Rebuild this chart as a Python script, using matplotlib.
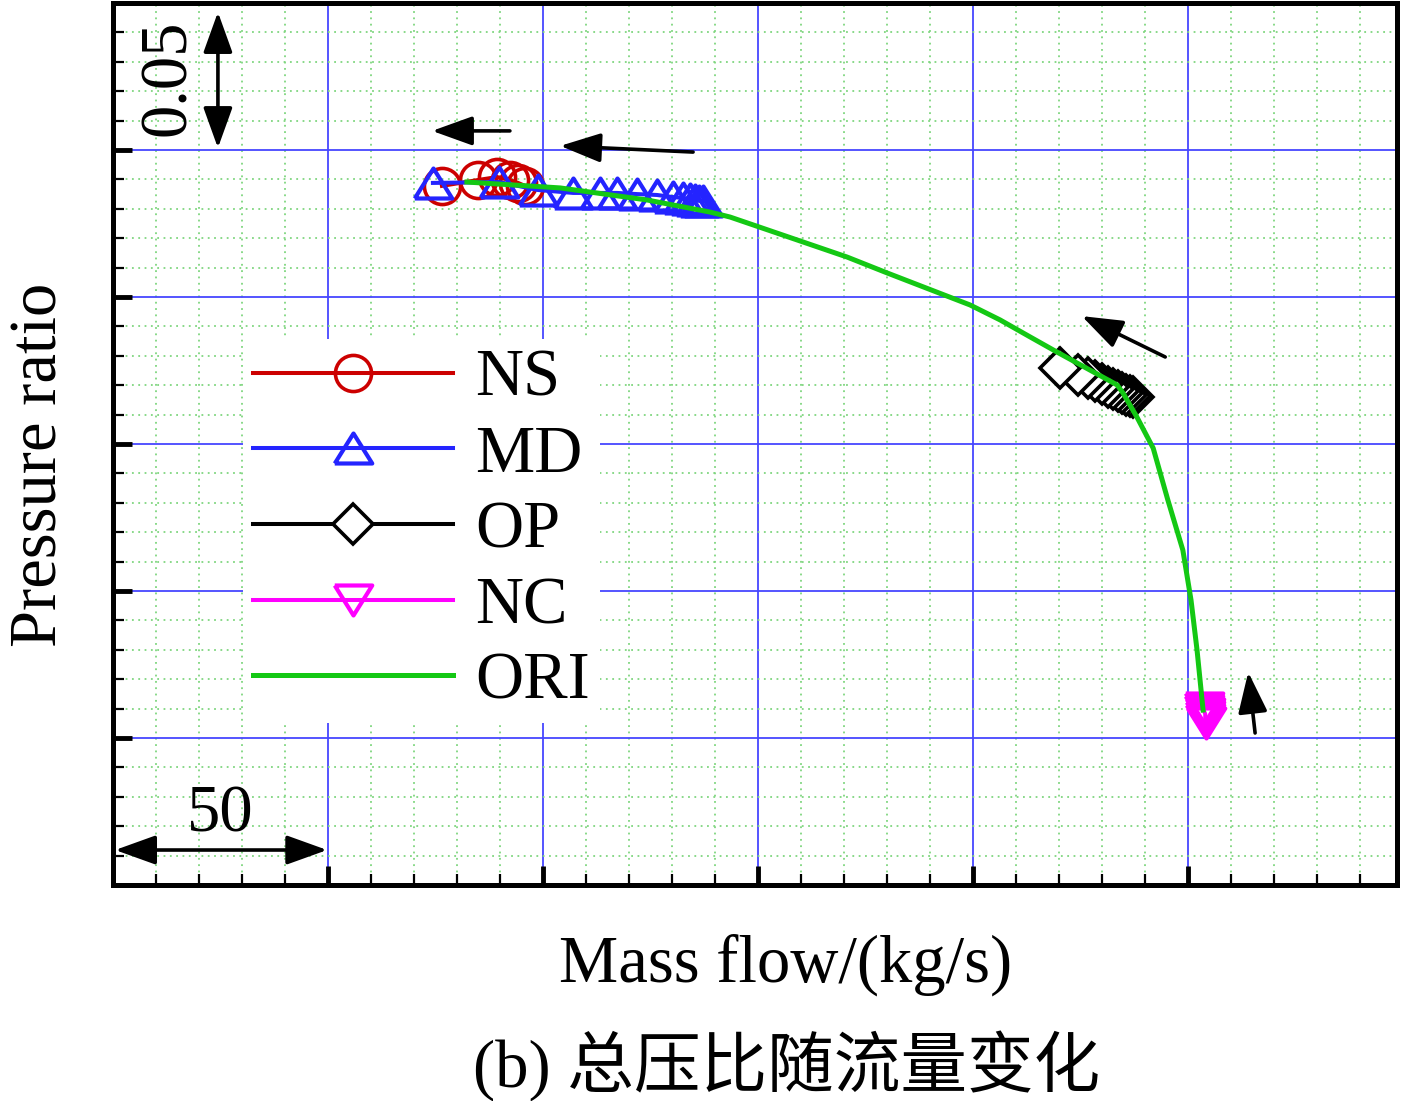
import numpy as np
import matplotlib
matplotlib.use("Agg")
import matplotlib.pyplot as plt
from matplotlib.ticker import MultipleLocator, NullFormatter

# ---- data (axis units: x in kg/s offset, y in pressure ratio offset) ----
ori_x = [82.3, 104.0, 124.2, 138.8, 143.5, 170.7, 180.0, 199.3, 206.3, 213.3,
         219.5, 233.5, 234.9, 238.1, 241.9, 245.3, 248.8, 250.7, 252.1, 253.5]
ori_y = [0.2391, 0.2371, 0.2330, 0.2289, 0.2272, 0.2136, 0.2082, 0.1973, 0.1922, 0.1864,
         0.1813, 0.1701, 0.1673, 0.1592, 0.1486, 0.1310, 0.1139, 0.0969, 0.0799, 0.0595]

ns_x = [76.5, 84.9, 89.3, 92.3, 94.2, 95.8]
ns_y = [0.2378, 0.2398, 0.2408, 0.2398, 0.2388, 0.2378]

md_x = [74.4, 89.8, 98.8, 107.0, 113.3, 117.2, 121.9, 126.5, 130.2, 132.6,
        134.2, 135.3, 136.3, 137.2]
md_y = [0.2388, 0.2391, 0.2364, 0.2354, 0.2354, 0.2354, 0.2350, 0.2347, 0.2340, 0.2337,
        0.2333, 0.2330, 0.2327, 0.2327]

# listed from high flow to low flow, so the leftmost marker ends on top
op_x = [237.2, 236.5, 235.6, 234.7, 233.7, 232.6, 231.4, 230.0, 228.4, 226.7, 224.4, 220.2]
op_y = [0.1660, 0.1663, 0.1667, 0.1673, 0.1680, 0.1687, 0.1694, 0.1704, 0.1714, 0.1724,
        0.1735, 0.1759]

nc_x = [253.7, 253.7, 254.0, 254.0, 254.0, 254.2]
nc_y = [0.0602, 0.0592, 0.0582, 0.0571, 0.0561, 0.0551]

# direction arrows (tail -> head)
arrows = [((92.3, 0.2565), (74.2, 0.2565)),
          ((134.9, 0.2493), (104.0, 0.2514)),
          ((244.7, 0.1796), (225.3, 0.1935)),
          ((265.6, 0.0517), (264.0, 0.0724))]

serif = "Liberation Serif"
plt.rcParams['font.family'] = [serif, 'Noto Sans CJK SC']

fig = plt.figure(figsize=(14.17, 11.01), dpi=100)
ax = fig.add_axes([113 / 1417, 1 - 885 / 1101, (1397 - 113) / 1417, (885 - 3) / 1101])

ax.set_xlim(0, 298.6)
ax.set_ylim(0, 0.30)

ax.xaxis.set_major_locator(MultipleLocator(50))
ax.xaxis.set_minor_locator(MultipleLocator(10))
ax.yaxis.set_major_locator(MultipleLocator(0.05))
ax.yaxis.set_minor_locator(MultipleLocator(0.01))
ax.xaxis.set_major_formatter(NullFormatter())
ax.yaxis.set_major_formatter(NullFormatter())

ax.grid(which='minor', color='#7fd67f', linestyle=(0, (1, 2.5)), linewidth=1.3)
ax.grid(which='major', color='#4646ff', linestyle='-', linewidth=1.3)
ax.set_axisbelow(True)

ax.tick_params(which='major', direction='in', length=14, width=3.5,
               top=False, right=False)
ax.tick_params(which='minor', direction='in', length=8, width=1.6,
               top=False, right=False)
for s in ax.spines.values():
    s.set_linewidth(3.6)

ax.plot(ns_x, ns_y, color='#cc0000', lw=2.9, marker='o', markersize=26,
        markerfacecolor='none', markeredgewidth=2.6, label='NS')
tri_up = [(-1, -0.8), (1, -0.8), (0, 0.8), (-1, -0.8)]
ax.plot(md_x, md_y, color='#2424ff', lw=2.9, marker=tri_up, markersize=27,
        markerfacecolor='none', markeredgewidth=3.0, label='MD')
ax.plot(op_x, op_y, color='black', lw=2.9, marker='D', markersize=20,
        markerfacecolor='white', markeredgewidth=2.6, label='OP')
tri_dn = [(-1, 0.8), (1, 0.8), (0, -0.8), (-1, 0.8)]
ax.plot(nc_x, nc_y, color='#ff00ff', lw=2.9, marker=tri_dn, markersize=27,
        markerfacecolor='none', markeredgewidth=3.0, label='NC')
ax.plot(ori_x, ori_y, color='#14c814', lw=3.6, label='ORI')

for (tx, ty), (hx, hy) in arrows:
    ax.annotate('', xy=(hx, hy), xytext=(tx, ty),
                arrowprops=dict(arrowstyle='-|>,head_length=1.25,head_width=0.45',
                                color='black', lw=2.6, mutation_scale=20,
                                shrinkA=0, shrinkB=0))

# scale bars
ax.annotate('', xy=(24.4, 0.2969), xytext=(24.4, 0.2507),
            arrowprops=dict(arrowstyle='<|-|>,head_length=1.25,head_width=0.45',
                            color='black', lw=2.6, mutation_scale=20,
                            shrinkA=0, shrinkB=0))
ax.text(12.8, 0.2745, '0.05', rotation=90, fontsize=48, family=serif,
        ha='center', va='center')
ax.annotate('', xy=(0.5, 0.0119), xytext=(49.8, 0.0119),
            arrowprops=dict(arrowstyle='<|-|>,head_length=1.25,head_width=0.45',
                            color='black', lw=2.6, mutation_scale=20,
                            shrinkA=0, shrinkB=0))
ax.text(24.9, 0.0238, '50', fontsize=48, family=serif, ha='center', va='center')

leg = ax.legend(loc='upper left', bbox_to_anchor=(243 / 1417, 1 - 339 / 1101),
                bbox_transform=fig.transFigure, fontsize=48, handlelength=3.0,
                handletextpad=0.33, labelspacing=0.22, borderpad=0.15,
                borderaxespad=0, frameon=True, fancybox=False, framealpha=1)
leg.get_frame().set_edgecolor('none')
leg.get_frame().set_facecolor('white')
for t in leg.get_texts():
    t.set_family(serif)

fig.text(40 / 1417, 1 - 465 / 1101, 'Pressure ratio', rotation=90, fontsize=48,
         family=serif, ha='center', va='center')
fig.text(786 / 1417, 1 - 965 / 1101, 'Mass flow/(kg/s)', fontsize=48,
         family=serif, ha='center', va='center')
fig.text(787 / 1417, 1 - 1066 / 1101, '(b) 总压比随流量变化', fontsize=48,
         family=[serif, 'Noto Sans CJK SC'], ha='center', va='center')

fig.savefig('out.png', dpi=100)
